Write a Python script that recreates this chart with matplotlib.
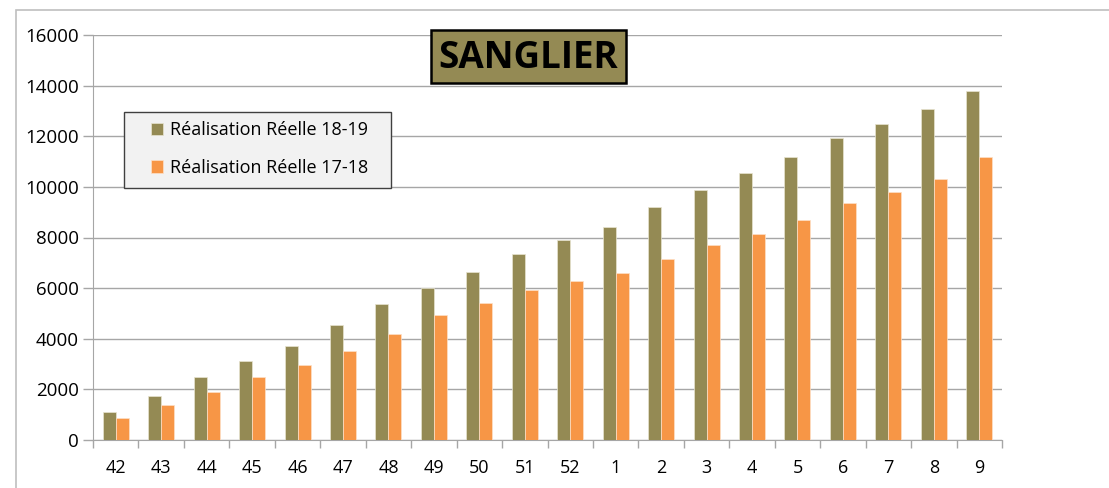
import matplotlib
matplotlib.use("Agg")
import matplotlib.pyplot as plt
import numpy as np
from matplotlib.patches import Rectangle

weeks = ["42", "43", "44", "45", "46", "47", "48", "49", "50", "51", "52",
         "1", "2", "3", "4", "5", "6", "7", "8", "9"]
real_18_19 = [1105, 1737, 2487, 3118, 3724, 4540, 5355, 6000, 6618, 7355, 7901,
              8402, 9205, 9864, 10560, 11181, 11931, 12484, 13090, 13776]
real_17_18 = [870, 1368, 1882, 2474, 2947, 3500, 4197, 4947, 5395, 5921, 6294,
              6610, 7164, 7704, 8139, 8692, 9364, 9786, 10312, 11169]
series_labels = ["Réalisation Réelle 18-19", "Réalisation Réelle 17-18"]
title_text = "SANGLIER"
yticks = [0, 2000, 4000, 6000, 8000, 10000, 12000, 14000, 16000]

GREEN = "#948a54"
ORANGE = "#f79646"
GRID = "#a6a6a6"
FONT = "Open Sans"

W, H = 1109, 488
fig = plt.figure(figsize=(W / 100, H / 100), dpi=100)
fig.patch.set_facecolor("white")


def fbox(x0, y0, x1, y1, **kw):
    """Rectangle given in pixel coords (top-left origin)."""
    return Rectangle((x0 / W, 1 - y1 / H), (x1 - x0) / W, (y1 - y0) / H,
                     transform=fig.transFigure, **kw)


# outer chart frame (partially cropped)
fig.patches.append(fbox(16, 10, 1300, 600, fill=False, edgecolor="#bfbfbf",
                        linewidth=1.2, zorder=0))

ax = fig.add_axes([93 / W, 1 - 440 / H, (1002 - 93) / W, (440 - 35) / H])
x = np.arange(len(weeks))
bw = 0.2857
ax.bar(x - bw / 2, real_18_19, width=bw, color=GREEN, edgecolor="#e8e4d0",
       linewidth=0.5, label=series_labels[0], zorder=3)
ax.bar(x + bw / 2, real_17_18, width=bw, color=ORANGE, edgecolor="#fde0c8",
       linewidth=0.5, label=series_labels[1], zorder=3)

ax.set_xlim(-0.5, len(weeks) - 0.5)
ax.set_ylim(0, 16000)
ax.set_yticks(yticks)
ax.set_yticklabels([str(v) for v in yticks], fontsize=13.5, family=FONT)
ax.yaxis.grid(True, color=GRID, linewidth=1.0, zorder=0)
ax.set_axisbelow(True)

ax.set_xticks(np.arange(len(weeks) + 1) - 0.5)
ax.set_xticklabels([])
ax.set_xticks(x, minor=True)
ax.set_xticklabels(weeks, minor=True, fontsize=13, family=FONT)
ax.tick_params(axis="x", which="major", length=6, color=GRID, width=1)
ax.tick_params(axis="x", which="minor", length=0, pad=14)
ax.tick_params(axis="y", length=7, color=GRID, width=1, pad=3)

for s in ["top", "right"]:
    ax.spines[s].set_visible(False)
ax.spines["left"].set_color(GRID)
ax.spines["bottom"].set_color(GRID)

# legend box (drawn as a frame) and legend entries
fig.patches.append(fbox(124, 112, 391, 188, facecolor="#f2f2f2",
                        edgecolor="#404040", linewidth=1.0, zorder=4))
leg = fig.legend(loc="upper left", bbox_to_anchor=(151 / W, 1 - 121 / H),
                 frameon=False, prop={"family": FONT, "size": 13},
                 handlelength=0.65, handleheight=0.65, handletextpad=0.4,
                 labelspacing=1.1, borderpad=0, borderaxespad=0)
leg.set_zorder(5)

# title box
fig.patches.append(fbox(431, 30, 626, 83, facecolor=GREEN, edgecolor="black",
                        linewidth=1.8, zorder=4))
fig.text(528 / W, 1 - 58 / H, title_text, ha="center", va="center",
         fontsize=26.5, fontweight="bold", family=FONT, color="black", zorder=5)

fig.savefig("out.png", dpi=100)
